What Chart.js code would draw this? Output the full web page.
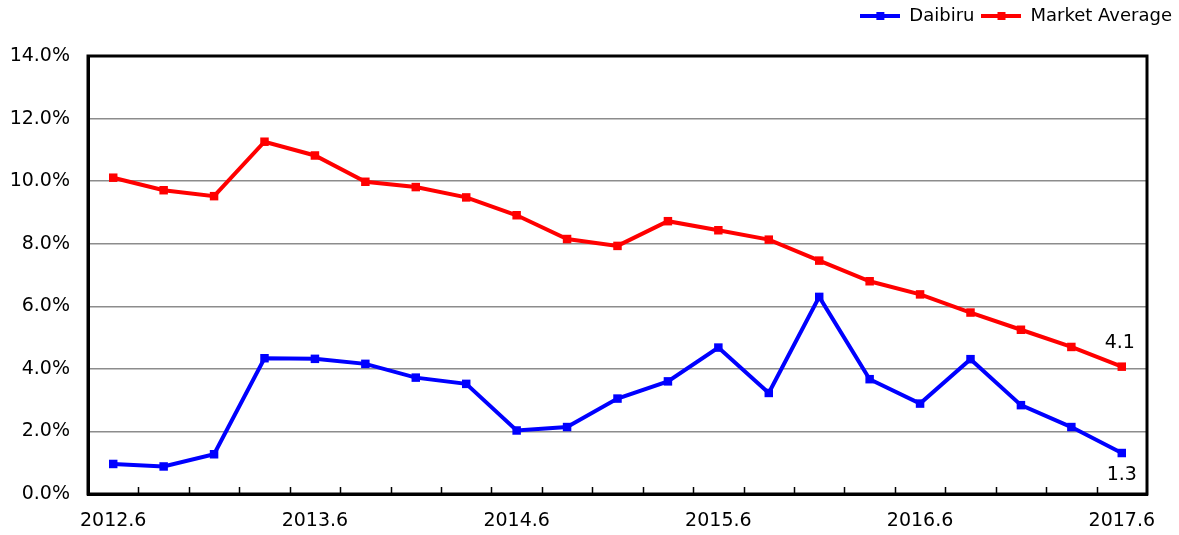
<!DOCTYPE html>
<html>
<head>
<meta charset="utf-8">
<script src="https://cdn.jsdelivr.net/npm/chart.js@4"></script>
<style>
  body { margin: 0; background: #fff; }
  #wrap { width: 1179px; height: 535px; }
</style>
</head>
<body>
<div id="wrap"><canvas id="myChart" width="1179" height="535"></canvas></div>
<script>
// quarters from 2012.6 to 2017.6
var quarters = ['2012.6','2012.9','2012.12','2013.3','2013.6','2013.9','2013.12','2014.3','2014.6','2014.9','2014.12','2015.3',
    '2015.6','2015.9','2015.12','2016.3','2016.6','2016.9','2016.12','2017.3','2017.6'];
var daibiru = [0.96,0.88,1.27,4.34,4.32,4.16,3.72,3.52,2.03,2.14,3.05,3.60,4.68,3.23,6.30,3.67,2.89,4.31,2.84,2.14,1.31];
var market = [10.11,9.71,9.52,11.26,10.82,9.98,9.81,9.48,8.91,8.15,7.93,8.72,8.43,8.13,7.46,6.80,6.38,5.80,5.25,4.70,4.07];
var yTicks = [0,2,4,6,8,10,12,14];

Chart.defaults.font.family = 'DejaVu Sans';
Chart.defaults.font.size = 19;
Chart.defaults.color = '#000';

function legendIcon(color){
    var c = document.createElement('canvas');
    c.width = 40; c.height = 10;
    var g = c.getContext('2d');
    g.strokeStyle = color; g.lineWidth = 4;
    g.beginPath(); g.moveTo(0,5); g.lineTo(40,5); g.stroke();
    g.fillStyle = color; g.fillRect(16,1,8,8);
    return c;
}
var icons = [legendIcon('#0000ff'), legendIcon('#ff0000')];

// frame, inward ticks, end labels
var extras = {
    id: 'extras',
    afterDraw: function(chart){
        var ctx = chart.ctx, a = chart.chartArea, xs = chart.scales.x;
        ctx.save();
        ctx.strokeStyle = '#000';
        ctx.lineWidth = 1.5;
        for (let i = 1; i < quarters.length; i++) {
            var x = Math.round((xs.getPixelForValue(i-1) + xs.getPixelForValue(i)) / 2) + 0.5;
            ctx.beginPath(); ctx.moveTo(x, a.bottom); ctx.lineTo(x, a.bottom - 7); ctx.stroke();
        }
        ctx.lineWidth = 3;
        ctx.strokeRect(a.left, a.top, a.right - a.left, a.bottom - a.top);
        ctx.fillStyle = '#000';
        ctx.font = '19px DejaVu Sans';
        ctx.textAlign = 'center';
        ctx.textBaseline = 'middle';
        var m0 = chart.getDatasetMeta(0).data, m1 = chart.getDatasetMeta(1).data;
        var p0 = m0[m0.length-1], p1 = m1[m1.length-1];
        ctx.fillText(daibiru[daibiru.length-1].toFixed(1), p0.x, p0.y + 22);
        ctx.fillText(market[market.length-1].toFixed(1), p1.x - 2, p1.y - 24);
        ctx.restore();
    }
};

const data = {
    labels: quarters,
    datasets: [{
        label: 'Daibiru',
        data: daibiru,
        borderColor: '#0000ff',
        backgroundColor: '#0000ff',
        borderWidth: 4,
        pointStyle: 'rect',
        pointRadius: 6,
        pointBorderWidth: 0,
        tension: 0
    },{
        label: 'Market Average',
        data: market,
        borderColor: '#ff0000',
        backgroundColor: '#ff0000',
        borderWidth: 4,
        pointStyle: 'rect',
        pointRadius: 6,
        pointBorderWidth: 0,
        tension: 0
    }]
};

const config = {
    type: 'line',
    data: data,
    options: {
        responsive: false,
        animation: false,
        layout: { padding: 0 },
        plugins: {
            tooltip: { enabled: false },
            legend: {
                position: 'top',
                align: 'end',
                labels: {
                    font: { size: 18 },
                    usePointStyle: true,
                    pointStyleWidth: 40,
                    padding: 7,
                    generateLabels: function(chart){
                        return Chart.defaults.plugins.legend.labels.generateLabels(chart)
                            .map((l, i) => Object.assign(l, { pointStyle: icons[i] }));
                    }
                }
            }
        },
        scales: {
            x: {
                offset: true,
                grid: { display: false, drawTicks: false },
                border: { color: '#000', width: 3 },
                ticks: {
                    autoSkip: false,
                    maxRotation: 0,
                    padding: 16,
                    callback: function(v, i){ return i % 4 === 0 ? quarters[i] : ''; }
                },
                afterFit: function(s){ s.height = 41; }
            },
            xTop: {
                position: 'top',
                display: true,
                grid: { display: false, drawTicks: false },
                border: { display: false },
                ticks: { display: false },
                afterFit: function(s){ s.height = 21; }
            },
            y: {
                min: 0,
                max: 14,
                afterBuildTicks: function(s){ s.ticks = yTicks.map(v => ({ value: v })); },
                grid: { color: '#8c8c8c', lineWidth: 1.5, drawTicks: false },
                border: { color: '#000', width: 3 },
                ticks: {
                    padding: 18,
                    callback: function(v){ return v.toFixed(1) + '%'; }
                },
                afterFit: function(s){ s.width = 88; }
            },
            yRight: {
                position: 'right',
                display: true,
                grid: { display: false, drawTicks: false },
                border: { display: false },
                ticks: { display: false },
                afterFit: function(s){ s.width = 32; }
            }
        }
    },
    plugins: [extras]
};

const myChart = new Chart(document.getElementById('myChart'), config);
</script>
</body>
</html>
